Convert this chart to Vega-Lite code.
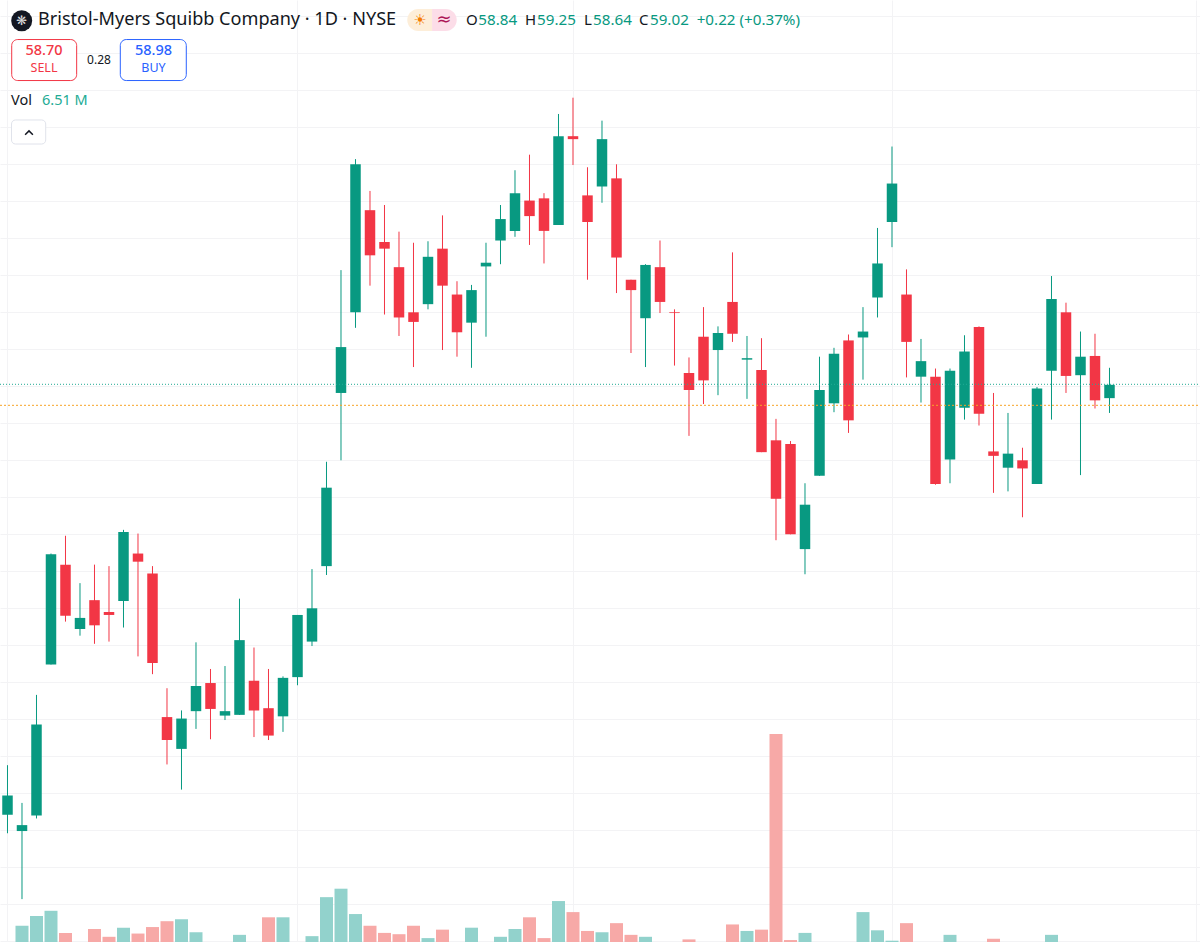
{"$schema":"https://vega.github.io/schema/vega-lite/v6.json","width":1200,"height":942,"padding":0,"autosize":{"type":"none"},"background":"#ffffff","config":{"view":{"stroke":null},"text":{"font":"Noto Sans"}},
"datasets":{"candles":[
{"day":0,"open":53.21,"high":53.88,"low":52.96,"close":53.47,"volume":6.0,"dir":"up"},
{"day":1,"open":52.99,"high":53.37,"low":52.07,"close":53.07,"volume":9.5,"dir":"up"},
{"day":2,"open":53.20,"high":54.83,"low":53.16,"close":54.43,"volume":11.0,"dir":"up"},
{"day":3,"open":55.24,"high":56.74,"low":55.24,"close":56.73,"volume":11.8,"dir":"up"},
{"day":4,"open":56.59,"high":56.98,"low":55.82,"close":55.90,"volume":8.4,"dir":"down"},
{"day":5,"open":55.72,"high":56.34,"low":55.63,"close":55.87,"volume":6.0,"dir":"up"},
{"day":6,"open":56.11,"high":56.59,"low":55.52,"close":55.77,"volume":9.0,"dir":"down"},
{"day":7,"open":55.95,"high":56.57,"low":55.55,"close":55.91,"volume":7.8,"dir":"down"},
{"day":8,"open":56.10,"high":57.06,"low":55.74,"close":57.03,"volume":9.2,"dir":"up"},
{"day":9,"open":56.74,"high":57.01,"low":55.35,"close":56.63,"volume":8.3,"dir":"down"},
{"day":10,"open":56.47,"high":56.57,"low":55.11,"close":55.26,"volume":9.3,"dir":"down"},
{"day":11,"open":54.53,"high":54.92,"low":53.89,"close":54.22,"volume":10.2,"dir":"down"},
{"day":12,"open":54.10,"high":54.62,"low":53.55,"close":54.51,"volume":10.5,"dir":"up"},
{"day":13,"open":54.61,"high":55.54,"low":54.37,"close":54.95,"volume":8.5,"dir":"up"},
{"day":14,"open":54.99,"high":55.18,"low":54.23,"close":54.64,"volume":6.0,"dir":"down"},
{"day":15,"open":54.55,"high":55.22,"low":54.49,"close":54.61,"volume":6.0,"dir":"up"},
{"day":16,"open":54.56,"high":56.13,"low":54.56,"close":55.57,"volume":8.1,"dir":"up"},
{"day":17,"open":55.02,"high":55.47,"low":54.26,"close":54.62,"volume":6.0,"dir":"down"},
{"day":18,"open":54.65,"high":55.18,"low":54.22,"close":54.28,"volume":10.8,"dir":"down"},
{"day":19,"open":54.54,"high":55.08,"low":54.33,"close":55.06,"volume":10.8,"dir":"up"},
{"day":20,"open":55.07,"high":55.91,"low":54.96,"close":55.91,"volume":6.0,"dir":"up"},
{"day":21,"open":55.55,"high":56.53,"low":55.49,"close":56.00,"volume":7.9,"dir":"up"},
{"day":22,"open":56.57,"high":57.98,"low":56.45,"close":57.63,"volume":13.9,"dir":"up"},
{"day":23,"open":58.91,"high":60.57,"low":58.00,"close":59.53,"volume":15.2,"dir":"up"},
{"day":24,"open":60.00,"high":62.07,"low":59.79,"close":62.00,"volume":11.3,"dir":"up"},
{"day":25,"open":61.38,"high":61.64,"low":60.36,"close":60.77,"volume":9.5,"dir":"down"},
{"day":26,"open":60.95,"high":61.45,"low":59.97,"close":60.86,"volume":8.4,"dir":"down"},
{"day":27,"open":60.61,"high":61.09,"low":59.68,"close":59.93,"volume":8.2,"dir":"down"},
{"day":28,"open":60.00,"high":60.94,"low":59.26,"close":59.87,"volume":9.5,"dir":"down"},
{"day":29,"open":60.11,"high":60.96,"low":60.04,"close":60.75,"volume":7.6,"dir":"up"},
{"day":30,"open":60.86,"high":61.31,"low":59.49,"close":60.36,"volume":8.9,"dir":"down"},
{"day":31,"open":60.24,"high":60.42,"low":59.40,"close":59.73,"volume":6.0,"dir":"down"},
{"day":32,"open":59.86,"high":60.37,"low":59.25,"close":60.30,"volume":9.2,"dir":"up"},
{"day":33,"open":60.62,"high":60.94,"low":59.67,"close":60.67,"volume":6.0,"dir":"up"},
{"day":34,"open":60.97,"high":61.45,"low":60.65,"close":61.26,"volume":7.8,"dir":"up"},
{"day":35,"open":61.10,"high":61.92,"low":61.02,"close":61.61,"volume":9.0,"dir":"up"},
{"day":36,"open":61.51,"high":62.13,"low":60.91,"close":61.30,"volume":10.8,"dir":"down"},
{"day":37,"open":61.54,"high":61.61,"low":60.66,"close":61.10,"volume":7.6,"dir":"down"},
{"day":38,"open":61.18,"high":62.68,"low":61.18,"close":62.38,"volume":13.3,"dir":"up"},
{"day":39,"open":62.38,"high":62.90,"low":61.99,"close":62.34,"volume":11.6,"dir":"down"},
{"day":40,"open":61.58,"high":61.96,"low":60.44,"close":61.22,"volume":8.7,"dir":"down"},
{"day":41,"open":61.70,"high":62.59,"low":61.48,"close":62.34,"volume":8.5,"dir":"up"},
{"day":42,"open":61.81,"high":62.00,"low":60.26,"close":60.74,"volume":9.9,"dir":"down"},
{"day":43,"open":60.44,"high":60.44,"low":59.45,"close":60.30,"volume":8.1,"dir":"down"},
{"day":44,"open":59.92,"high":60.65,"low":59.26,"close":60.64,"volume":7.8,"dir":"up"},
{"day":45,"open":60.61,"high":60.97,"low":59.99,"close":60.14,"volume":6.0,"dir":"down"},
{"day":46,"open":60.00,"high":60.04,"low":59.28,"close":59.99,"volume":6.0,"dir":"down"},
{"day":47,"open":59.18,"high":59.39,"low":58.33,"close":58.95,"volume":7.4,"dir":"down"},
{"day":48,"open":59.67,"high":60.07,"low":58.76,"close":59.08,"volume":6.0,"dir":"down"},
{"day":49,"open":59.49,"high":59.81,"low":58.88,"close":59.72,"volume":6.0,"dir":"up"},
{"day":50,"open":60.14,"high":60.81,"low":59.60,"close":59.71,"volume":9.7,"dir":"down"},
{"day":51,"open":59.36,"high":59.68,"low":58.83,"close":59.38,"volume":8.7,"dir":"up"},
{"day":52,"open":59.22,"high":59.65,"low":58.11,"close":58.11,"volume":8.9,"dir":"down"},
{"day":53,"open":58.27,"high":58.56,"low":56.92,"close":57.48,"volume":39.0,"dir":"down"},
{"day":54,"open":58.22,"high":58.26,"low":57.00,"close":57.00,"volume":7.3,"dir":"down"},
{"day":55,"open":56.80,"high":57.69,"low":56.46,"close":57.40,"volume":8.4,"dir":"up"},
{"day":56,"open":57.79,"high":59.40,"low":57.79,"close":58.95,"volume":6.0,"dir":"up"},
{"day":57,"open":58.77,"high":59.52,"low":58.65,"close":59.44,"volume":6.0,"dir":"up"},
{"day":58,"open":59.62,"high":59.70,"low":58.37,"close":58.54,"volume":6.0,"dir":"down"},
{"day":59,"open":59.66,"high":60.07,"low":59.09,"close":59.74,"volume":11.6,"dir":"up"},
{"day":60,"open":60.20,"high":61.14,"low":59.93,"close":60.66,"volume":8.8,"dir":"up"},
{"day":61,"open":61.22,"high":62.24,"low":60.88,"close":61.74,"volume":7.2,"dir":"up"},
{"day":62,"open":60.24,"high":60.58,"low":59.12,"close":59.60,"volume":9.9,"dir":"down"},
{"day":63,"open":59.13,"high":59.64,"low":58.78,"close":59.34,"volume":6.0,"dir":"up"},
{"day":64,"open":59.13,"high":59.24,"low":57.67,"close":57.68,"volume":6.0,"dir":"down"},
{"day":65,"open":58.01,"high":59.24,"low":57.69,"close":59.21,"volume":8.1,"dir":"up"},
{"day":66,"open":58.71,"high":59.69,"low":58.55,"close":59.47,"volume":6.0,"dir":"up"},
{"day":67,"open":59.80,"high":59.81,"low":58.47,"close":58.63,"volume":6.0,"dir":"down"},
{"day":68,"open":58.12,"high":58.91,"low":57.56,"close":58.06,"volume":7.5,"dir":"down"},
{"day":69,"open":57.90,"high":58.64,"low":57.58,"close":58.09,"volume":6.0,"dir":"up"},
{"day":70,"open":58.00,"high":58.17,"low":57.23,"close":57.89,"volume":6.0,"dir":"down"},
{"day":71,"open":57.68,"high":58.99,"low":57.68,"close":58.97,"volume":6.0,"dir":"up"},
{"day":72,"open":59.21,"high":60.49,"low":58.55,"close":60.18,"volume":8.1,"dir":"up"},
{"day":73,"open":60.00,"high":60.13,"low":58.91,"close":59.14,"volume":6.0,"dir":"down"},
{"day":74,"open":59.15,"high":59.74,"low":57.80,"close":59.40,"volume":6.0,"dir":"up"},
{"day":75,"open":59.41,"high":59.71,"low":58.70,"close":58.81,"volume":6.0,"dir":"down"},
{"day":76,"open":58.84,"high":59.25,"low":58.64,"close":59.02,"volume":6.51,"dir":"up"}
]},
"layer":[
{"data":{"name":"candles"},"mark":{"type":"bar","size":13,"clip":true},"encoding":{
"x":{"field":"day","type":"quantitative","scale":{"domain":[-0.5172,82.2414],"nice":false,"zero":false,"padding":0},"axis":{"values":[0,20,39,61,82],"grid":true,"gridColor":"#f3f3f5","labels":false,"ticks":false,"domain":false,"title":null}},
"y":{"field":"volume","type":"quantitative","stack":null,"scale":{"domain":[7,151.92],"nice":false,"zero":false},"axis":null},
"color":{"field":"dir","type":"nominal","scale":{"domain":["up","down"],"range":["#92D2CC","#F7A9A7"]},"legend":null}}},
{"encoding":{
"x":{"field":"day","type":"quantitative","scale":{"domain":[-0.5172,82.2414],"nice":false,"zero":false,"padding":0},"axis":{"values":[0,20,39,61,82],"grid":true,"gridColor":"#f3f3f5","labels":false,"ticks":false,"domain":false,"title":null}},
"y":{"field":"price","type":"quantitative","scale":{"domain":[51.4905,64.2203],"nice":false,"zero":false},"axis":{"values":[51.5,52,52.5,53,53.5,54,54.5,55,55.5,56,56.5,57,57.5,58,58.5,59,59.5,60,60.5,61,61.5,62,62.5,63,63.5,64],"grid":true,"gridColor":"#f3f3f5","labels":false,"ticks":false,"domain":false,"title":null}}},
"layer":[
{"data":{"name":"candles"},"mark":{"type":"rule","strokeWidth":1},"encoding":{"y":{"field":"low","type":"quantitative","scale":{"domain":[51.4905,64.2203],"nice":false,"zero":false},"axis":{"values":[51.5,52,52.5,53,53.5,54,54.5,55,55.5,56,56.5,57,57.5,58,58.5,59,59.5,60,60.5,61,61.5,62,62.5,63,63.5,64],"grid":true,"gridColor":"#f3f3f5","labels":false,"ticks":false,"domain":false,"title":null}},"y2":{"field":"high"},"color":{"field":"dir","type":"nominal","scale":{"domain":["up","down"],"range":["#089981","#F23645"]},"legend":null}}},
{"data":{"name":"candles"},"mark":{"type":"bar","size":10.5},"encoding":{"y":{"field":"open","type":"quantitative","scale":{"domain":[51.4905,64.2203],"nice":false,"zero":false},"axis":{"values":[51.5,52,52.5,53,53.5,54,54.5,55,55.5,56,56.5,57,57.5,58,58.5,59,59.5,60,60.5,61,61.5,62,62.5,63,63.5,64],"grid":true,"gridColor":"#f3f3f5","labels":false,"ticks":false,"domain":false,"title":null}},"y2":{"field":"close"},"color":{"field":"dir","type":"nominal","scale":{"domain":["up","down"],"range":["#089981","#F23645"]},"legend":null}}},
{"data":{"values":[{"day":-0.5172,"end":82.2414,"price":59.027}]},"mark":{"type":"rule","color":"#22AB94","strokeWidth":1,"strokeDash":[1,2]},"encoding":{"x2":{"field":"end"}}},
{"data":{"values":[{"day":-0.5172,"end":82.2414,"price":58.743}]},"mark":{"type":"rule","color":"#F7A325","strokeWidth":1,"strokeDash":[2,2]},"encoding":{"x2":{"field":"end"}}},
{"data":{"values":[{"day":0.98,"price":63.94}]},"mark":{"type":"point","filled":true,"size":440,"color":"#131722","opacity":1}},
{"data":{"values":[{"day":0.98,"price":63.94,"label":"❋"}]},"mark":{"type":"text","fontSize":13,"color":"#d8d8d8","align":"center","baseline":"middle","font":"DejaVu Sans"},"encoding":{"text":{"field":"label"}}},
{"data":{"values":[{"day":2.103,"price":63.95,"label":"Bristol-Myers Squibb Company · 1D · NYSE"}]},"mark":{"type":"text","fontSize":18.1,"color":"#131722","align":"left","baseline":"middle"},"encoding":{"text":{"field":"label"}}},
{"data":{"values":[{"day":27.57,"dayEnd":29.28,"price":64.10,"priceEnd":63.80}]},"mark":{"type":"rect","color":"#FDEED9","cornerRadiusTopLeft":11,"cornerRadiusBottomLeft":11},"encoding":{"x2":{"field":"dayEnd"},"y2":{"field":"priceEnd"}}},
{"data":{"values":[{"day":29.28,"dayEnd":30.98,"price":64.10,"priceEnd":63.80}]},"mark":{"type":"rect","color":"#FCDDE8","cornerRadiusTopRight":11,"cornerRadiusBottomRight":11},"encoding":{"x2":{"field":"dayEnd"},"y2":{"field":"priceEnd"}}},
{"data":{"values":[{"day":28.45,"price":63.95,"label":"☀"}]},"mark":{"type":"text","fontSize":15,"color":"#F57C00","align":"center","baseline":"middle","font":"DejaVu Sans"},"encoding":{"text":{"field":"label"}}},
{"data":{"values":[{"day":30.10,"price":63.95,"label":"≈"}]},"mark":{"type":"text","fontSize":18,"color":"#AD1457","align":"center","baseline":"middle","font":"DejaVu Sans"},"encoding":{"text":{"field":"label"}}},
{"data":{"values":[{"day":31.62,"price":63.95,"label":"O"},{"day":35.69,"price":63.95,"label":"H"},{"day":39.76,"price":63.95,"label":"L"},{"day":43.55,"price":63.95,"label":"C"}]},"mark":{"type":"text","fontSize":15,"color":"#131722","align":"left","baseline":"middle"},"encoding":{"text":{"field":"label"}}},
{"data":{"values":[{"day":32.47,"price":63.95,"label":"58.84"},{"day":36.52,"price":63.95,"label":"59.25"},{"day":40.38,"price":63.95,"label":"58.64"},{"day":44.31,"price":63.95,"label":"59.02"},{"day":47.53,"price":63.95,"label":"+0.22 (+0.37%)"}]},"mark":{"type":"text","fontSize":15.2,"color":"#089981","align":"left","baseline":"middle"},"encoding":{"text":{"field":"label"}}},
{"data":{"values":[{"day":0.29,"dayEnd":4.77,"price":63.686,"priceEnd":63.132}]},"mark":{"type":"rect","fill":"#ffffff","stroke":"#F23645","strokeWidth":1,"cornerRadius":6},"encoding":{"x2":{"field":"dayEnd"},"y2":{"field":"priceEnd"}}},
{"data":{"values":[{"day":7.78,"dayEnd":12.33,"price":63.686,"priceEnd":63.132}]},"mark":{"type":"rect","fill":"#ffffff","stroke":"#2962FF","strokeWidth":1,"cornerRadius":6},"encoding":{"x2":{"field":"dayEnd"},"y2":{"field":"priceEnd"}}},
{"data":{"values":[{"day":2.517,"price":63.525,"label":"58.70"}]},"mark":{"type":"text","fontSize":14.5,"fontWeight":500,"color":"#F23645","align":"center","baseline":"middle"},"encoding":{"text":{"field":"label"}}},
{"data":{"values":[{"day":2.517,"price":63.295,"label":"SELL"}]},"mark":{"type":"text","fontSize":12.5,"color":"#F23645","align":"center","baseline":"middle"},"encoding":{"text":{"field":"label"}}},
{"data":{"values":[{"day":10.07,"price":63.525,"label":"58.98"}]},"mark":{"type":"text","fontSize":14.5,"fontWeight":500,"color":"#2962FF","align":"center","baseline":"middle"},"encoding":{"text":{"field":"label"}}},
{"data":{"values":[{"day":10.07,"price":63.295,"label":"BUY"}]},"mark":{"type":"text","fontSize":12.5,"color":"#2962FF","align":"center","baseline":"middle"},"encoding":{"text":{"field":"label"}}},
{"data":{"values":[{"day":6.31,"price":63.403,"label":"0.28"}]},"mark":{"type":"text","fontSize":12,"color":"#131722","align":"center","baseline":"middle"},"encoding":{"text":{"field":"label"}}},
{"data":{"values":[{"day":0.241,"price":62.855,"label":"Vol"}]},"mark":{"type":"text","fontSize":14.5,"color":"#131722","align":"left","baseline":"middle"},"encoding":{"text":{"field":"label"}}},
{"data":{"values":[{"day":2.379,"price":62.855,"label":"6.51 M"}]},"mark":{"type":"text","fontSize":14.5,"color":"#22AB94","align":"left","baseline":"middle"},"encoding":{"text":{"field":"label"}}},
{"data":{"values":[{"day":0.276,"dayEnd":2.634,"price":62.599,"priceEnd":62.274}]},"mark":{"type":"rect","fill":"#ffffff","stroke":"#E0E3EB","strokeWidth":1,"cornerRadius":4},"encoding":{"x2":{"field":"dayEnd"},"y2":{"field":"priceEnd"}}},
{"data":{"values":[{"day":1.483,"price":62.43}]},"mark":{"type":"point","shape":"M-1,0.6L0,-0.4L1,0.6","size":60,"filled":false,"stroke":"#131722","strokeWidth":1.5,"opacity":1}}
]}
],
"resolve":{"scale":{"y":"independent","color":"independent"}}}
